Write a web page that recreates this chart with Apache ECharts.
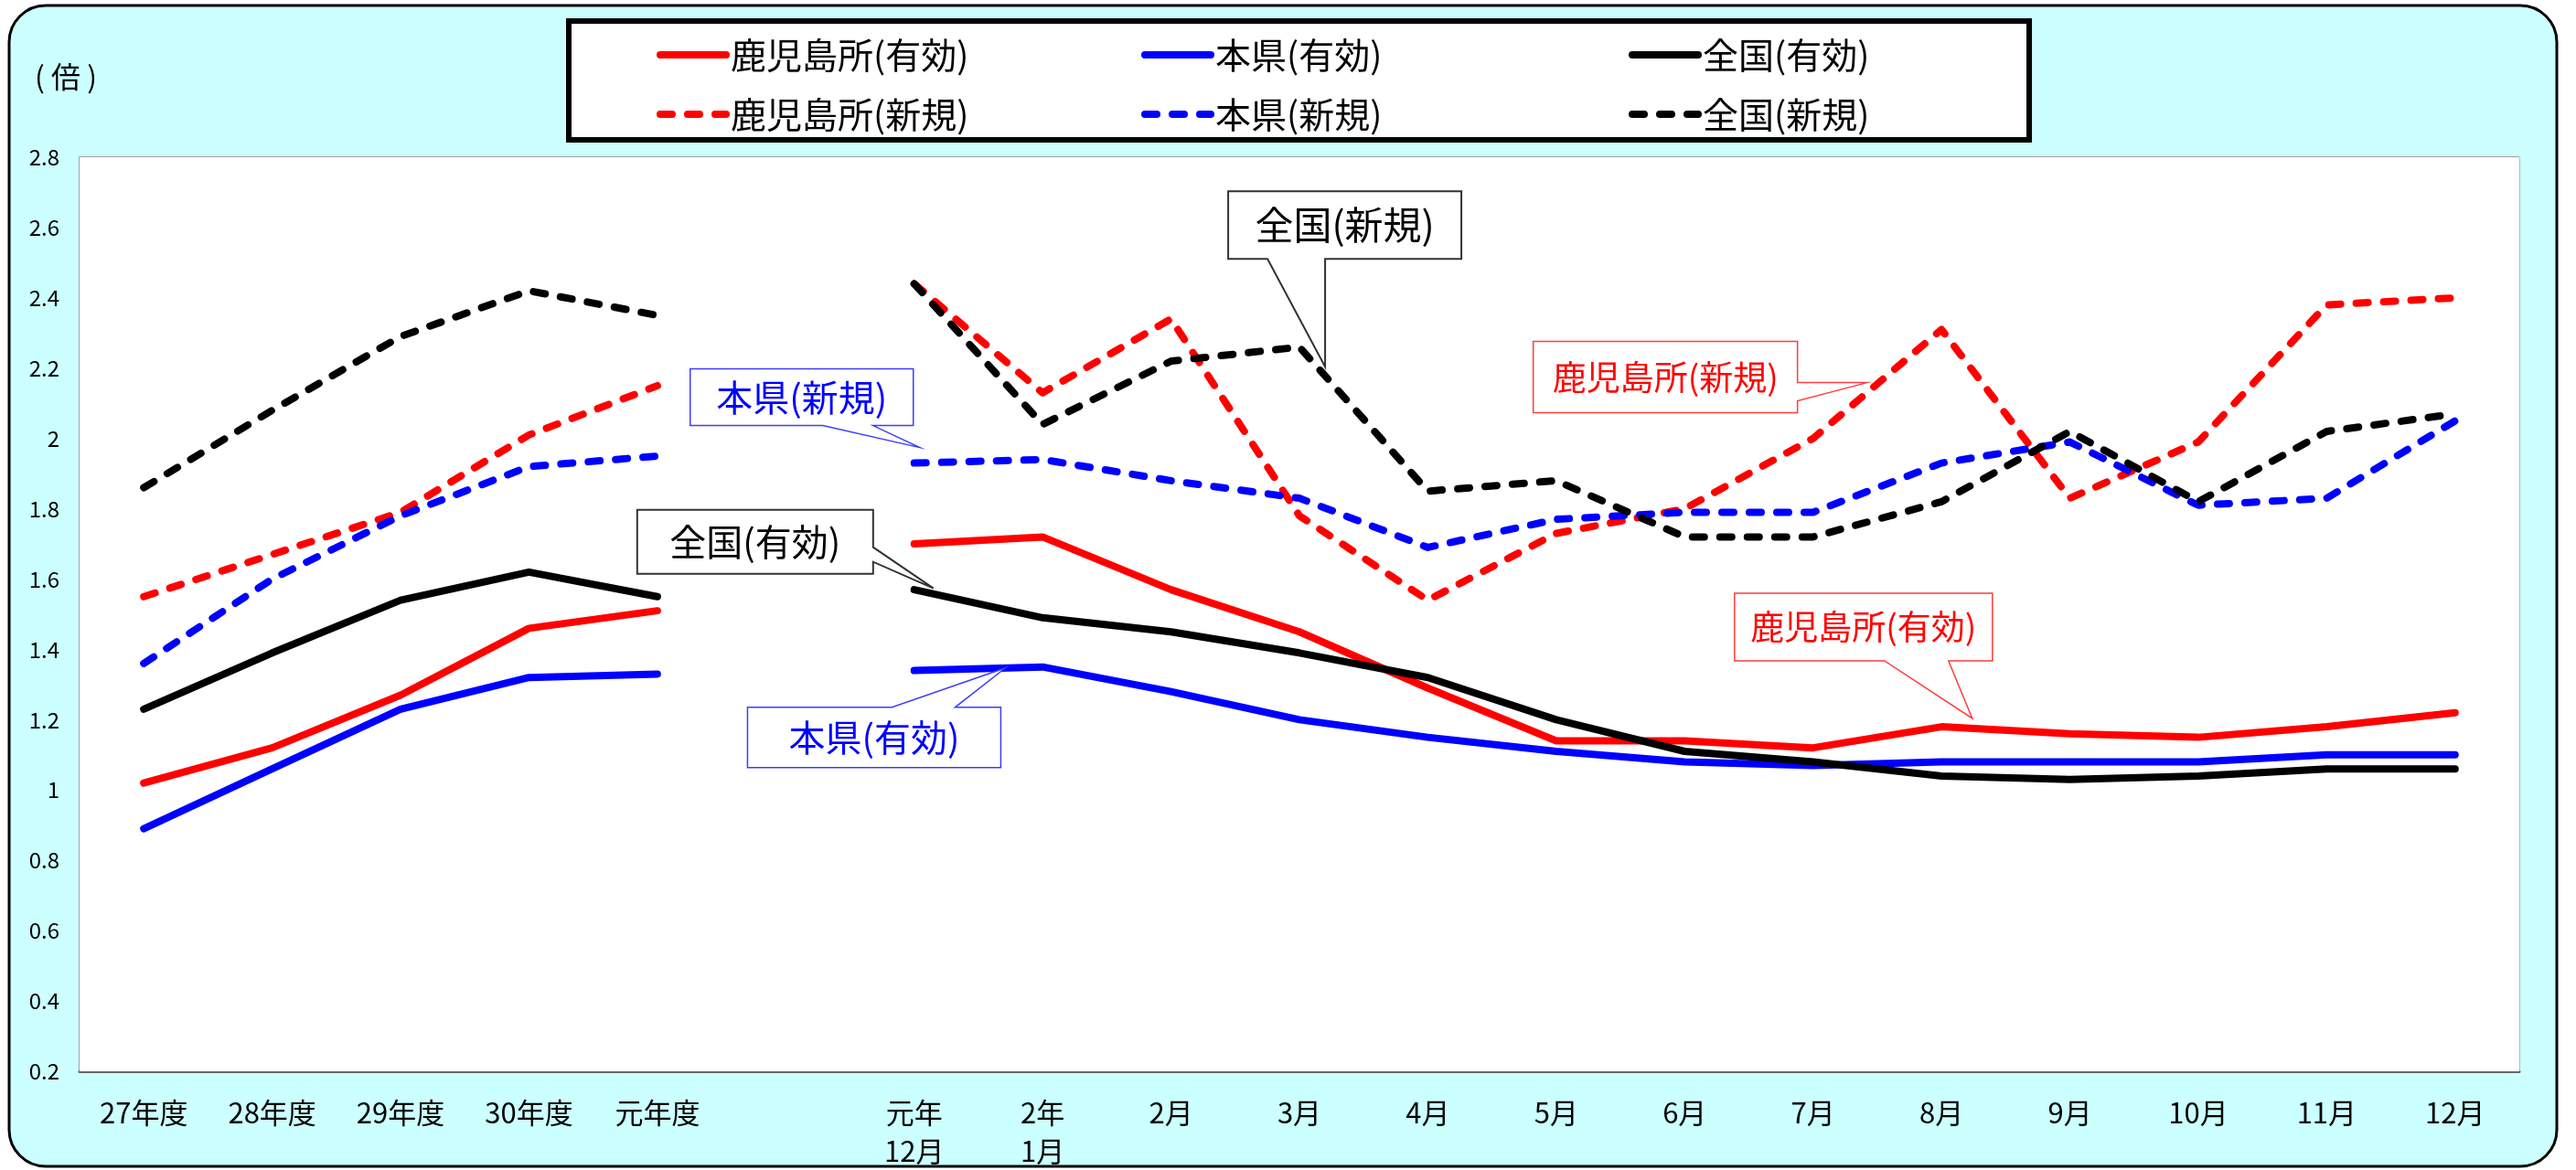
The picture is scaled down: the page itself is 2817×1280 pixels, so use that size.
<!DOCTYPE html>
<html>
<head>
<meta charset="utf-8">
<script src="https://cdn.jsdelivr.net/npm/echarts@6/dist/echarts.min.js"></script>
<style>
html,body{margin:0;padding:0;background:#fff;}
#c{width:2817px;height:1280px;}
</style>
</head>
<body>
<div id="c"></div>
<script>
// ---- data ----
const categories = ['27年度','28年度','29年度','30年度','元年度','','元年\n12月','2年\n1月','2月','3月','4月','5月','6月','7月','8月','9月','10月','11月','12月'];
const kagoshimaYuko   = [1.02,1.12,1.27,1.46,1.51,null,1.70,1.72,1.57,1.45,1.29,1.14,1.14,1.12,1.18,1.16,1.15,1.18,1.22];
const honkenYuko      = [0.89,1.06,1.23,1.32,1.33,null,1.34,1.35,1.28,1.20,1.15,1.11,1.08,1.07,1.08,1.08,1.08,1.10,1.10];
const zenkokuYuko     = [1.23,1.39,1.54,1.62,1.55,null,1.57,1.49,1.45,1.39,1.32,1.20,1.11,1.08,1.04,1.03,1.04,1.06,1.06];
const kagoshimaShinki = [1.55,1.67,1.79,2.01,2.15,null,2.44,2.13,2.34,1.78,1.54,1.73,1.80,2.00,2.31,1.83,1.99,2.38,2.40];
const honkenShinki    = [1.36,1.60,1.78,1.92,1.95,null,1.93,1.94,1.88,1.83,1.69,1.77,1.79,1.79,1.93,1.99,1.81,1.83,2.05];
const zenkokuShinki   = [1.86,2.08,2.29,2.42,2.35,null,2.44,2.04,2.22,2.26,1.85,1.88,1.72,1.72,1.82,2.02,1.82,2.02,2.07];
const yMin = 0.2, yMax = 2.8, yStep = 0.2;
const unitLabel = '( 倍 )';

// ---- styling ----
const FONT = '"Noto Sans CJK JP","Noto Sans",sans-serif';
const RED = '#ff0000', BLUE = '#0000ff', BLACK = '#000000';
const DASH = [13, 17];

function mkSeries(name, data, color, dashed, z) {
  return {
    name: name, type: 'line', data: data, symbol: 'none', showSymbol: false,
    connectNulls: false, z: z,
    lineStyle: { color: color, width: 8, type: dashed ? DASH : 'solid', cap: 'round', join: 'round' },
    itemStyle: { color: color },
    emphasis: { disabled: true }
  };
}

const chart = echarts.init(document.getElementById('c'), null, { width: 2817, height: 1280 });

const legendText = { fontSize: 39, lineHeight: 42, fontFamily: FONT, color: '#000' };
function mkLegend(items, left) {
  return {
    data: items, left: left, top: 34, orient: 'vertical',
    itemWidth: 72, itemHeight: 20, itemGap: 23, selectedMode: false,
    itemStyle: { opacity: 0, borderWidth: 0 },
    lineStyle: { width: 8, cap: 'round' },
    textStyle: legendText, z: 5
  };
}

const option = {
  animation: false,
  backgroundColor: '#ffffff',
  textStyle: { fontFamily: FONT },
  grid: { left: 87, right: 62, top: 172, bottom: 107, show: true, backgroundColor: '#ffffff', borderWidth: 0, z: 1 },
  legend: [
    mkLegend(['鹿児島所(有効)', '鹿児島所(新規)'], 713),
    mkLegend(['本県(有効)', '本県(新規)'], 1243),
    mkLegend(['全国(有効)', '全国(新規)'], 1776)
  ],
  xAxis: {
    type: 'category', data: categories, boundaryGap: true,
    axisLine: { lineStyle: { color: '#666666', width: 3 } },
    axisTick: { show: false },
    axisLabel: { interval: 0, fontSize: 31, color: '#000', fontFamily: FONT, margin: 24, lineHeight: 42 },
    splitLine: { show: true, interval: 0, lineStyle: { color: '#a8a8a8', width: 1.5 } }
  },
  yAxis: {
    type: 'value', min: yMin, max: yMax, interval: yStep,
    axisLine: { show: true, lineStyle: { color: '#a0a0a0', width: 2 } },
    axisTick: { show: false },
    axisLabel: { fontSize: 24, color: '#000', fontFamily: FONT, margin: 22, formatter: function (v) { return String(+v.toFixed(1)); } },
    splitLine: { show: true, lineStyle: { color: '#a0a0a0', width: 2 } }
  },
  series: [
    mkSeries('鹿児島所(有効)', kagoshimaYuko, RED, false, 4),
    mkSeries('本県(有効)', honkenYuko, BLUE, false, 4),
    mkSeries('全国(有効)', zenkokuYuko, BLACK, false, 4),
    mkSeries('鹿児島所(新規)', kagoshimaShinki, RED, true, 3),
    mkSeries('本県(新規)', honkenShinki, BLUE, true, 3),
    mkSeries('全国(新規)', zenkokuShinki, BLACK, true, 3)
  ]
};
chart.setOption(option);

// ---- annotations (callout boxes anchored on series lines) ----
const annotations = [
  { text: '全国(新規)', series: zenkokuShinki, i: 9, t: 0.2, dy: -10, color: BLACK, border: '#333333', lw: 2,
    box: [-106, -192, 255, 74], edge: 'bottom', base: [43, 106], fs: 42 },
  { text: '本県(新規)', series: honkenShinki, i: 6, t: 0, dx: 6, dy: -17, color: BLUE, border: '#3c3cff', lw: 1.5,
    box: [-251, -86, 244, 62], edge: 'bottom', base: [145, 200], fs: 40 },
  { text: '全国(有効)', series: zenkokuYuko, i: 6, t: 0.15, dy: -6, color: BLACK, border: '#333333', lw: 2,
    box: [-324, -86, 258, 70], edge: 'right', base: [41, 57], fs: 40 },
  { text: '本県(有効)', series: honkenYuko, i: 6, t: 0.71, dy: 0, color: BLUE, border: '#3c3cff', lw: 1.5,
    box: [-282, 43, 277, 66], edge: 'top', base: [158, 227], fs: 40 },
  { text: '鹿児島所(新規)', series: kagoshimaShinki, i: 13, t: 0.42, dy: -11, color: RED, border: '#ff3c3c', lw: 1.5,
    box: [-365, -45, 289, 78], edge: 'right', base: [45, 65], fs: 37 },
  { text: '鹿児島所(有効)', series: kagoshimaYuko, i: 14, t: 0.24, dy: -11, color: RED, border: '#ff3c3c', lw: 1.5,
    box: [-260, -137, 282, 74], edge: 'bottom', base: [164, 234], fs: 37 }
];

function tipPoint(a) {
  const s = a.series;
  const p0 = chart.convertToPixel({ gridIndex: 0 }, [a.i, s[a.i]]);
  const p1 = chart.convertToPixel({ gridIndex: 0 }, [a.i + 1, s[a.i + 1]]);
  return [p0[0] + (p1[0] - p0[0]) * a.t + (a.dx || 0), p0[1] + (p1[1] - p0[1]) * a.t + (a.dy || 0)];
}

function callout(a) {
  const tip = tipPoint(a);
  const L = tip[0] + a.box[0], T = tip[1] + a.box[1];
  const R = L + a.box[2], B = T + a.box[3];
  const b1 = a.base[0], b2 = a.base[1];
  let pts;
  if (a.edge === 'bottom') pts = [[L, T], [R, T], [R, B], [L + b2, B], tip, [L + b1, B], [L, B]];
  else if (a.edge === 'top') pts = [[L, T], [L + b1, T], tip, [L + b2, T], [R, T], [R, B], [L, B]];
  else pts = [[L, T], [R, T], [R, T + b1], tip, [R, T + b2], [R, B], [L, B]];
  return [
    { type: 'polygon', shape: { points: pts }, style: { fill: '#ffffff', stroke: a.border, lineWidth: a.lw }, z: 20, silent: true },
    { type: 'text', x: (L + R) / 2, y: (T + B) / 2, z: 21, silent: true,
      style: { text: a.text, fill: a.color, fontSize: a.fs, fontFamily: FONT, align: 'center', verticalAlign: 'middle', textAlign: 'center', textVerticalAlign: 'middle' } }
  ];
}

let elements = [
  { type: 'rect', shape: { x: 10, y: 6, width: 2786, height: 1270, r: 40 }, style: { fill: '#ccffff', stroke: '#000000', lineWidth: 3 }, z: -10, silent: true },
  { type: 'rect', shape: { x: 622, y: 23, width: 1597, height: 130 }, style: { fill: '#ffffff', stroke: '#000000', lineWidth: 6 }, z: 1, silent: true },
  { type: 'text', x: 38, y: 84, z: 2, silent: true,
    style: { text: unitLabel, fill: '#000', fontSize: 32, fontFamily: FONT, align: 'left', verticalAlign: 'middle', textAlign: 'left', textVerticalAlign: 'middle' } }
];
annotations.forEach(function (a) { elements = elements.concat(callout(a)); });
chart.setOption({ graphic: { elements: elements } });
</script>
</body>
</html>
